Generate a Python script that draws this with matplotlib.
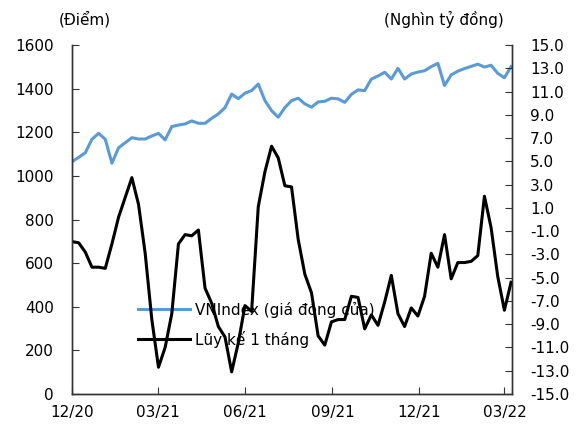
import numpy as np
import pandas as pd
import matplotlib
matplotlib.use("Agg")
import matplotlib.pyplot as plt
import matplotlib.dates as mdates
from matplotlib.ticker import FormatStrFormatter

plt.rcParams['font.family'] = ['DejaVu Sans']
plt.rcParams['axes.unicode_minus'] = False

# dữ liệu theo tuần
dates = pd.date_range("2020-12-01", periods=67, freq="7D")

vnindex = [1065, 1085, 1106, 1168, 1195, 1168, 1058, 1129, 1152, 1175,
           1169, 1169, 1183, 1195, 1165, 1226, 1233, 1238, 1252, 1241,
           1241, 1264, 1284, 1313, 1375, 1354, 1379, 1391, 1421, 1345,
           1299, 1269, 1313, 1345, 1356, 1330, 1315, 1339, 1342, 1356,
           1353, 1337, 1374, 1394, 1391, 1444, 1458, 1475, 1444, 1493,
           1444, 1467, 1476, 1482, 1501, 1516, 1414, 1463, 1480, 1492,
           1502, 1512, 1499, 1507, 1470, 1450, 1501]

luy_ke = [-1.9, -2.0, -2.8, -4.1, -4.1, -4.2, -2.1, 0.2, 1.9, 3.6,
          1.3, -2.9, -8.6, -12.7, -11.0, -8.1, -2.1, -1.3, -1.4, -0.9,
          -5.9, -7.2, -9.2, -10.1, -13.1, -10.6, -7.4, -7.9, 1.1, 4.1,
          6.3, 5.3, 2.9, 2.8, -1.7, -4.7, -6.3, -10.0, -10.8, -8.8,
          -8.6, -8.6, -6.6, -6.7, -9.4, -8.2, -9.1, -7.1, -4.8, -8.1,
          -9.2, -7.6, -8.3, -6.6, -2.9, -4.1, -1.3, -5.1, -3.7, -3.7,
          -3.6, -3.1, 2.0, -0.7, -4.9, -7.8, -5.4]

tick_dates = pd.to_datetime(["2020-12-01", "2021-03-01", "2021-06-01",
                             "2021-09-01", "2021-12-01", "2022-03-01"])

fig = plt.figure(figsize=(5.8, 4.3), dpi=100)
ax = fig.add_axes([72 / 580, 1 - 394 / 430, 440 / 580, 349 / 430])
ax2 = ax.twinx()

l1, = ax.plot(dates, vnindex, color='#5B9BD5', lw=2.2, label='VNIndex (giá đóng cửa)')
l2, = ax2.plot(dates, luy_ke, color='black', lw=2.2, label='Lũy kế 1 tháng')

ax.set_ylim(0, 1600)
ax.set_yticks(np.arange(0, 1601, 200))
ax2.set_ylim(-15, 15)
ax2.set_yticks(np.arange(-15, 16, 2))
ax2.yaxis.set_major_formatter(FormatStrFormatter('%.1f'))

ax.set_xlim(dates[0], dates[-1] + pd.Timedelta(days=1))
ax.set_xticks(tick_dates)
ax.xaxis.set_major_formatter(mdates.DateFormatter('%m/%y'))

spine_c = '#333333'
for a in (ax, ax2):
    a.spines['top'].set_visible(False)
    for s in ('left', 'right', 'bottom'):
        a.spines[s].set_color(spine_c)
        a.spines[s].set_linewidth(1.0)
ax.tick_params(axis='y', direction='in', length=5, color=spine_c, labelsize=11, pad=13)
ax.tick_params(axis='x', direction='in', length=5, color=spine_c, labelsize=11, pad=8)
ax2.tick_params(axis='y', direction='in', length=5, color=spine_c, labelsize=11, pad=13)

fig.text(85 / 580, 1 - 19 / 430, '(Điểm)', ha='center', va='center', fontsize=11)
fig.text(444 / 580, 1 - 19 / 430, '(Nghìn tỷ đồng)', ha='center', va='center', fontsize=11)

ax.legend([l1, l2], [l1.get_label(), l2.get_label()], loc='center left',
          bbox_to_anchor=(138 / 580, 1 - 324.5 / 430), bbox_transform=fig.transFigure,
          frameon=False, fontsize=11, handlelength=3.4, handletextpad=0.35,
          labelspacing=0.85, borderpad=0, borderaxespad=0)

fig.savefig("out.png", dpi=100)
